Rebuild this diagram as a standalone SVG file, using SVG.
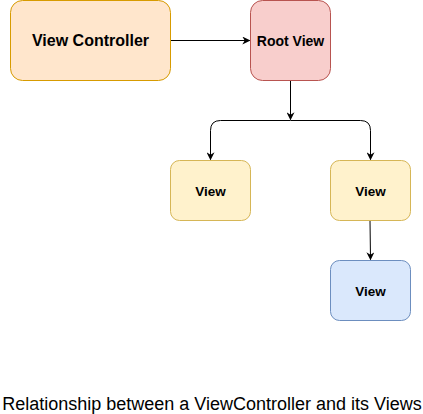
<svg xmlns="http://www.w3.org/2000/svg" width="423" height="414" viewBox="0 0 423 414">
<style>
text{font-family:"Liberation Sans",Arial,Helvetica,sans-serif;font-weight:bold;text-anchor:middle;fill:#000}
.edge{fill:none;stroke:#000;stroke-width:1}
.cap{font-weight:normal;font-size:18px}
</style>
<defs>
<marker id="arr" viewBox="0 0 10 10" refX="9" refY="5" markerWidth="8" markerHeight="8" markerUnits="userSpaceOnUse" orient="auto">
<path d="M0,0 L10,5 L0,10 L3,5 Z" fill="#000"/>
</marker>
</defs>
<rect width="423" height="414" fill="#fff"/>
<g id="connectors">
<path class="edge" d="M170.5,40.5 H249.5" marker-end="url(#arr)"/>
<path class="edge" d="M290.5,80.5 V119.5" marker-end="url(#arr)"/>
<path class="edge" d="M290.5,120.5 H220.5 Q210.5,120.5 210.5,130.5 V159.5" marker-end="url(#arr)"/>
<path class="edge" d="M290.5,120.5 H360.5 Q370.5,120.5 370.5,130.5 V159.5" marker-end="url(#arr)"/>
<path class="edge" d="M370,220.5 L370.5,259.5" marker-end="url(#arr)"/>
</g>
<g id="view-controller">
<rect x="10.5" y="0.5" width="160" height="80" rx="12" fill="#ffe6cc" stroke="#d79b00"/>
<text x="90.5" y="46" font-size="16">View Controller</text>
</g>
<g id="root-view">
<rect x="250.5" y="0.5" width="80" height="80" rx="12" fill="#f8cecc" stroke="#b85450"/>
<text x="290.5" y="45.5" font-size="14">Root View</text>
</g>
<g id="view-left">
<rect x="170.5" y="160.5" width="80" height="60" rx="9" fill="#fff2cc" stroke="#d6b656"/>
<text x="210.5" y="195.5" font-size="13.5">View</text>
</g>
<g id="view-right">
<rect x="330.5" y="160.5" width="80" height="60" rx="9" fill="#fff2cc" stroke="#d6b656"/>
<text x="370.5" y="195.5" font-size="13.5">View</text>
</g>
<g id="view-bottom">
<rect x="330.5" y="260.5" width="80" height="60" rx="9" fill="#dae8fc" stroke="#6c8ebf"/>
<text x="370.5" y="295.5" font-size="13.5">View</text>
</g>
<text class="cap" x="212" y="409.5">Relationship between a ViewController and its Views</text>
</svg>
